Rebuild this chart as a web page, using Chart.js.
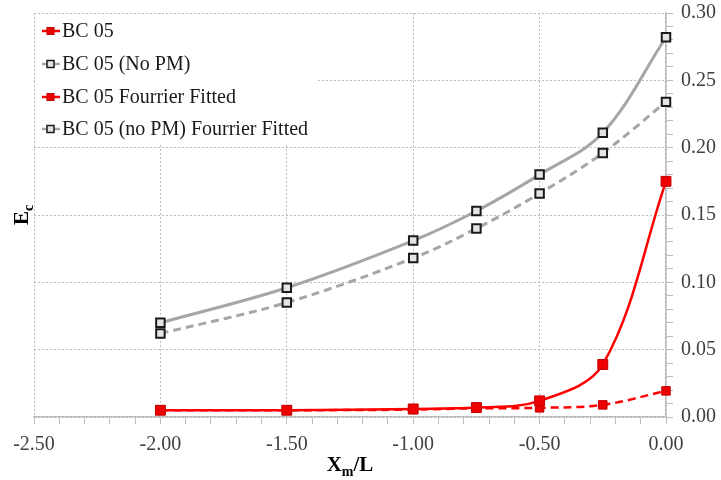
<!DOCTYPE html>
<html>
<head>
<meta charset="utf-8">
<script src="https://cdn.jsdelivr.net/npm/chart.js@4.4.1/dist/chart.umd.min.js"></script>
<style>
  html, body { margin: 0; padding: 0; background: #fff; }
</style>
</head>
<body>
<canvas id="chart" width="721" height="480"></canvas>
<script>
// x positions (Xm/L) and E_c values
const xVals = [-2, -1.5, -1, -0.75, -0.5, -0.25, 0];
const bc05 = [0.005, 0.005, 0.006, 0.007, 0.012, 0.039, 0.175];
const bc05NoPM = [0.070, 0.096, 0.131, 0.153, 0.180, 0.211, 0.282];
const bc05Fit = [0.005, 0.005, 0.0055, 0.0065, 0.0068, 0.009, 0.0194];
const bc05NoPMFit = [0.062, 0.085, 0.118, 0.140, 0.166, 0.196, 0.234];
const seriesLabels = ['BC 05', 'BC 05 (No PM)', 'BC 05 Fourrier Fitted', 'BC 05 (no PM) Fourrier Fitted'];
const xMajor = [-2.5, -2, -1.5, -1, -0.5, 0];
const yMajor = [0, 0.05, 0.1, 0.15, 0.2, 0.25, 0.3];

const FONT = "'Liberation Serif', 'Times New Roman', serif";
const GRID = '#bdbdbd';

const pts = ys => xVals.map((x, i) => ({ x: x, y: ys[i] }));
const near = (v, list) => list.some(m => Math.abs(v - m) < 1e-6);

const red = { borderColor: '#ff0000', pointBackgroundColor: '#ee0000', pointBorderColor: '#c00000' };
const gray = { borderColor: '#a6a6a6', pointBackgroundColor: '#e4e4e4', pointBorderColor: '#1a1a1a' };

const datasets = [
  Object.assign({ label: seriesLabels[0], data: pts(bc05), borderWidth: 2.5, pointRadius: 7, pointBorderWidth: 1 }, red),
  Object.assign({ label: seriesLabels[1], data: pts(bc05NoPM), borderWidth: 3, pointRadius: 6, pointBorderWidth: 2 }, gray),
  Object.assign({ label: seriesLabels[2], data: pts(bc05Fit), borderWidth: 2.5, borderDash: [8, 5], pointRadius: 6, pointBorderWidth: 1 }, red),
  Object.assign({ label: seriesLabels[3], data: pts(bc05NoPMFit), borderWidth: 3, borderDash: [8, 5], pointRadius: 6, pointBorderWidth: 2 }, gray)
];
datasets.forEach(d => { d.pointStyle = 'rect'; d.tension = 0.35; d.fill = false; d.clip = false; });

// legend drawn inside the plot, top-left, on a white box
const insideLegend = {
  id: 'insideLegend',
  afterDraw(chart) {
    const ctx = chart.ctx;
    const a = chart.chartArea;
    ctx.save();
    ctx.fillStyle = '#fff';
    ctx.fillRect(a.left + 1, a.top + 1, 282, 131);
    ctx.font = '20px ' + FONT;
    ctx.textBaseline = 'middle';
    const rows = [31, 64, 97, 129];
    chart.data.datasets.forEach((d, i) => {
      const y = rows[i];
      ctx.strokeStyle = d.borderColor;
      ctx.lineWidth = 2.5;
      ctx.beginPath();
      ctx.moveTo(42, y);
      ctx.lineTo(60, y);
      ctx.stroke();
      ctx.fillStyle = d.pointBackgroundColor;
      ctx.fillRect(47, y - 3.5, 7, 7);
      ctx.strokeStyle = d.pointBorderColor;
      ctx.lineWidth = d.pointBorderWidth > 1 ? 1.5 : 1;
      ctx.strokeRect(47, y - 3.5, 7, 7);
      ctx.fillStyle = '#1a1a1a';
      ctx.fillText(d.label, 62, y + 1);
    });
    ctx.restore();
  }
};

// axis titles with subscripts
const axisTitles = {
  id: 'axisTitles',
  afterDraw(chart) {
    const ctx = chart.ctx;
    const a = chart.chartArea;
    ctx.save();
    ctx.fillStyle = '#000';
    ctx.textBaseline = 'alphabetic';
    const big = 'bold 21px ' + FONT;
    const small = 'bold 14px ' + FONT;
    // X_m/L
    ctx.font = big; const wX = ctx.measureText('X').width; const wL = ctx.measureText('/L').width;
    ctx.font = small; const wm = ctx.measureText('m').width;
    let x = (a.left + a.right) / 2 - (wX + wm + wL) / 2;
    const by = 471;
    ctx.font = big; ctx.fillText('X', x, by); x += wX;
    ctx.font = small; ctx.fillText('m', x, by + 5); x += wm;
    ctx.font = big; ctx.fillText('/L', x, by);
    // E_c (rotated)
    ctx.translate(28, (a.top + a.bottom) / 2);
    ctx.rotate(-Math.PI / 2);
    ctx.font = big; const wE = ctx.measureText('E').width;
    ctx.font = small; const wc = ctx.measureText('c').width;
    let t = -(wE + wc) / 2;
    ctx.font = big; ctx.fillText('E', t, 0); t += wE;
    ctx.font = small; ctx.fillText('c', t, 5);
    ctx.restore();
  }
};

new Chart(document.getElementById('chart').getContext('2d'), {
  type: 'line',
  data: { datasets: datasets },
  options: {
    responsive: false,
    animation: false,
    layout: { padding: { left: 34, top: 13, right: 0, bottom: 0 } },
    plugins: { legend: { display: false }, tooltip: { enabled: false } },
    scales: {
      x: {
        type: 'linear',
        min: -2.5,
        max: 0,
        afterFit: s => { s.height = 63; s.paddingLeft = 0; s.paddingRight = 0; },
        ticks: {
          stepSize: 0.1,
          autoSkip: false,
          maxRotation: 0,
          padding: 9,
          color: '#404040',
          font: { family: FONT, size: 20 },
          callback: v => near(v, xMajor) ? v.toFixed(2) : ''
        },
        grid: {
          color: c => (c.tick && near(c.tick.value, xMajor)) ? GRID : 'rgba(0,0,0,0)',
          tickColor: GRID,
          tickLength: 7,
          lineWidth: 1
        },
        border: { color: GRID, width: 1.5, dash: [2, 2] }
      },
      y: {
        position: 'right',
        min: 0,
        max: 0.3,
        afterFit: s => { s.width = 55; s.paddingTop = 0; s.paddingBottom = 0; },
        ticks: {
          stepSize: 0.01,
          autoSkip: false,
          padding: 8,
          color: '#404040',
          font: { family: FONT, size: 20 },
          callback: v => near(v, yMajor) ? v.toFixed(2) : ''
        },
        grid: {
          color: c => (c.tick && near(c.tick.value, yMajor)) ? GRID : 'rgba(0,0,0,0)',
          tickColor: GRID,
          tickLength: 7,
          lineWidth: 1
        },
        border: { color: GRID, width: 1.5, dash: [2, 2] }
      }
    }
  },
  plugins: [insideLegend, axisTitles]
});
</script>
</body>
</html>
